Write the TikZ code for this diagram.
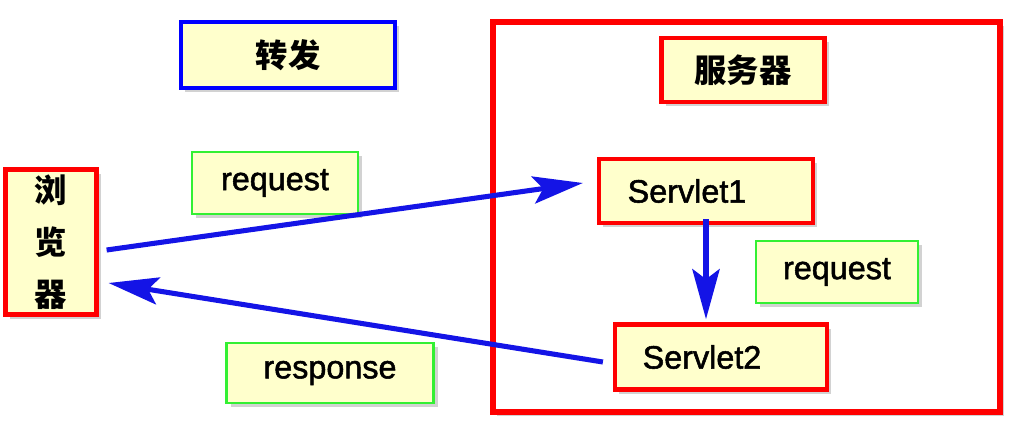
\documentclass[tikz,border=0pt]{standalone}
\usepackage{fontspec}
\setmainfont{Liberation Sans}[BoldFont={Liberation Sans}, BoldFeatures={FakeBold=1.6}]
\newfontfamily\cjk{Noto Sans CJK SC}
\usetikzlibrary{arrows.meta, positioning, shadows}
\definecolor{boxfill}{HTML}{FFFFCC}
\definecolor{boxred}{HTML}{FF0000}
\definecolor{boxblue}{HTML}{0000FF}
\definecolor{boxgreen}{HTML}{33F033}
\definecolor{arrowblue}{HTML}{1414E6}

\begin{document}
\begin{tikzpicture}[
      x=0.025cm, y=-0.025cm,
      size/.style 2 args={minimum width=#1*0.025cm, minimum height=#2*0.025cm},
      block/.style={rectangle, draw=boxred, fill=boxfill, line width=3pt, inner sep=0pt, align=center,
                    drop shadow={shadow xshift=3pt, shadow yshift=-3pt, fill=black!35},
                    font=\fontsize{23}{26}\selectfont\bfseries},
      tag/.style={block, draw=boxgreen, line width=1.6pt},
      zh/.style={font=\fontsize{23}{37}\selectfont\cjk\bfseries},
      arrow/.style={-{Stealth[length=1.25cm, width=0.68cm, inset=0.25cm]}, line width=3.6pt, draw=arrowblue}
  ]
      \useasboundingbox (0,0) rectangle (1014,427);

      % Server frame
      \node[block, fill=white, line width=4pt, size={507}{390}] (server) at (746.5,217) {};
      \node[block, zh, size={163}{64}] (host) at (743,70) {服务器};

      % Left side
      \node[block, zh, draw=boxblue, size={214}{66}] (forward) at (288,55) {转发};
      \node[block, zh, size={91}{145}] (browser) at (51,242) {浏\\览\\器};
      \node[tag, size={166}{62}] (reqA) at (275,183) {request};
      \node[tag, size={207}{60}] (resp) at (330,373) {response};

      % Servlets
      \node[block, size={214}{64}] (servletA) at (706,191) {Servlet1\hspace{0.95cm}};
      \node[block, size={212}{65}] (servletB) at (721,357) {Servlet2\hspace{0.95cm}};
      \node[tag, size={162}{62}] (reqB) at (837,272) {request};

      % Arrows
      \draw[arrow] ([shift={(8,8)}]browser.east) -- ([shift={(-14,-8)}]servletA.west);
      \draw[arrow, shorten <=-4pt, shorten >=0.08cm] (servletA.south) -- (servletA.south |- servletB.north);
      \draw[arrow] ([shift={(-10,5)}]servletB.west) -- ([shift={(10,41)}]browser.east);
  \end{tikzpicture}
\end{document}
